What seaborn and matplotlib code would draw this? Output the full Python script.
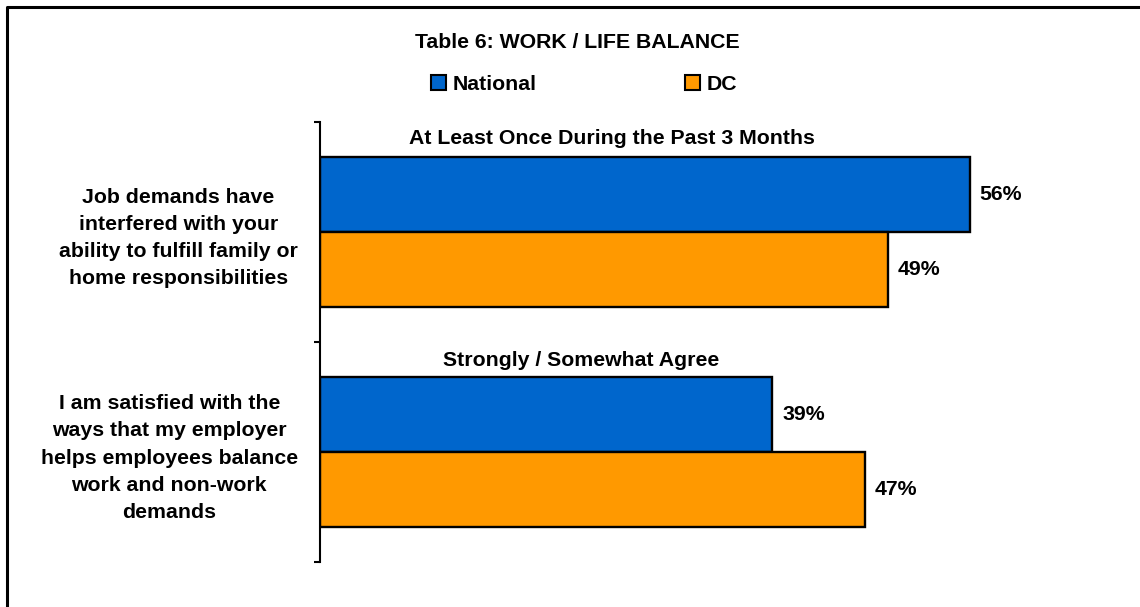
import matplotlib
matplotlib.use("Agg")
import matplotlib.pyplot as plt
from matplotlib.lines import Line2D
import seaborn as sns
import pandas as pd

# ---- data ----
categories = [
    "Job demands have\ninterfered with your\nability to fulfill family or\nhome responsibilities",
    "I am satisfied with the\nways that my employer\nhelps employees balance\nwork and non-work\ndemands",
]
subtitles = ["At Least Once During the Past 3 Months", "Strongly / Somewhat Agree"]
series_names = ["National", "DC"]
national = [56, 39]
dc = [49, 47]
colors = ["#0066CC", "#FF9900"]
title = "Table 6: WORK / LIFE BALANCE"

rows = []
for c, v in zip(categories, national):
    rows.append({"cat": c, "series": "National", "value": v})
for c, v in zip(categories, dc):
    rows.append({"cat": c, "series": "DC", "value": v})
df = pd.DataFrame(rows)

sns.set_theme(style="white")
plt.rcParams["font.family"] = ["Liberation Sans", "DejaVu Sans"]
plt.rcParams["font.weight"] = "bold"
plt.rcParams["text.color"] = "black"
plt.rcParams["axes.labelcolor"] = "black"
plt.rcParams["xtick.color"] = "black"
plt.rcParams["ytick.color"] = "black"

FS = 15.3
W, H = 1140, 607
fig = plt.figure(figsize=(W / 100, H / 100), dpi=100)
ax = fig.add_axes([320 / W, (H - 562) / H, 812 / W, 440 / H])

sns.barplot(data=df, y="cat", x="value", hue="series", order=categories,
            hue_order=series_names, palette=colors, orient="h", width=0.68,
            gap=0, edgecolor="black", linewidth=1.7, saturation=1, ax=ax,
            legend=True)

ax.set_xlim(0, 70)
ax.set_ylim(1.5, -0.5)
ax.set_xlabel("")
ax.set_ylabel("")
ax.set_xticks([])
for s in ["top", "right", "bottom"]:
    ax.spines[s].set_visible(False)
ax.spines["left"].set_linewidth(1.5)
ax.spines["left"].set_color("black")

ax.set_yticks([0, 1])
ax.set_yticklabels(categories, fontsize=FS, fontweight="bold", color="black",
                   multialignment="center", linespacing=1.55)
ax.set_yticks([-0.5, 0.5, 1.5], minor=True)
ax.tick_params(axis="y", which="major", length=0, pad=16)
ax.tick_params(axis="y", which="minor", length=4.5, width=1.5,
               color="black", direction="out", left=True)

for cont in ax.containers:
    ax.bar_label(cont, fmt="%d%%", padding=7, fontsize=FS, fontweight="bold",
                 color="black")

ax.text(25.2, -0.427, subtitles[0], ha="center", va="center",
        fontsize=FS, fontweight="bold", color="black")
ax.text(22.5, 0.582, subtitles[1], ha="center", va="center",
        fontsize=FS, fontweight="bold", color="black")

sns.move_legend(ax, loc="center", bbox_to_anchor=(584 / W, 1 - 84 / H),
                bbox_transform=fig.transFigure, ncol=2, frameon=False,
                title=None, fontsize=FS, handlelength=0.7, handleheight=0.7,
                handletextpad=0.3, columnspacing=7.0)
for h in ax.get_legend().legend_handles:
    h.set_edgecolor("black")
    h.set_linewidth(1.5)
for t in ax.get_legend().get_texts():
    t.set_fontweight("bold")
    t.set_color("black")

fig.text(577 / W, 1 - 42 / H, title, ha="center", va="center",
         fontsize=FS, fontweight="bold", color="black")

x0 = 7 / W
y1 = 1 - 7 / H
fig.add_artist(Line2D([x0, x0, 1.05], [-0.05, y1, y1], transform=fig.transFigure,
                      color="black", linewidth=2.2))

fig.savefig("out.png", dpi=100)
